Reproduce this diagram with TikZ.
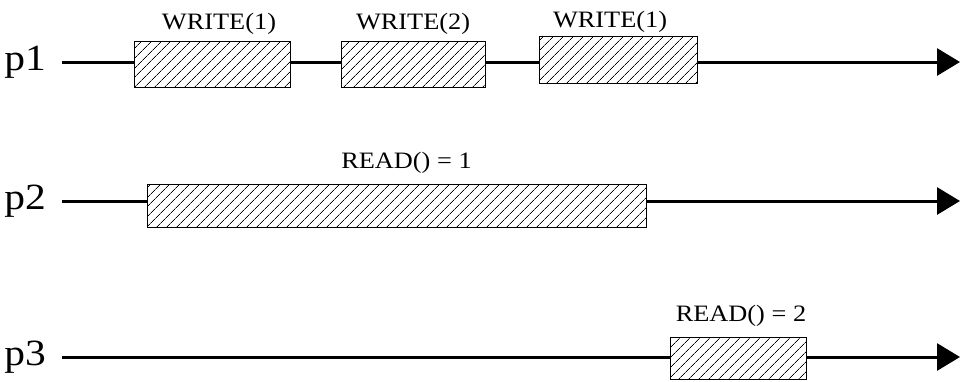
\documentclass[tikz,border=0pt]{standalone}
\usepackage{fontspec}
\setmainfont{Liberation Serif}[FakeStretch=1.12]
\usetikzlibrary{arrows.meta,patterns.meta,positioning}

\begin{document}
\begin{tikzpicture}[x=1pt,y=-1pt,>={Triangle[length=23pt,width=27pt]},
  op/.style={draw,line width=1pt,inner sep=0pt,
    pattern={Lines[angle=45,distance=7.4pt,line width=0.9pt]}},
  proc/.style={font=\fontsize{37}{40}\selectfont,inner sep=0pt},
  lbl/.style={font=\fontsize{23.5}{26}\selectfont,inner sep=0pt},
  axis/.style={line width=3pt}]
\useasboundingbox (0,0) rectangle (960,381);

% start and end of each process line
\coordinate (s1) at (62,62);  \coordinate (e1) at (960,62);
\coordinate (s2) at (62,201); \coordinate (e2) at (960,201);
\coordinate (s3) at (62,357); \coordinate (e3) at (960,357);

\node[proc,left=16pt of s1] (p1) {p1};
\node[proc,left=16pt of s2] (p2) {p2};
\node[proc,left=16pt of s3] (p3) {p3};

% operations
\node[op,minimum width=156pt,minimum height=46pt] (w1) at (212,64) {};
\node[op,minimum width=144pt,minimum height=46pt] (w2) at (413,64) {};
\node[op,minimum width=158pt,minimum height=47pt] (w3) at (618,59.5) {};
\node[op,minimum width=499pt,minimum height=43pt] (r1) at (396.5,205.5) {};
\node[op,minimum width=136pt,minimum height=42pt] (r2) at (738,358) {};

\node[lbl,above=6pt of w1,xshift=7pt] (lw1) {WRITE(1)};
\node[lbl,above=6pt of w2] (lw2) {WRITE(2)};
\node[lbl,above=3pt of w3,xshift=-8pt] (lw3) {WRITE(1)};
\node[lbl,above=10pt of r1,xshift=10pt] (lr1) {READ() = 1};
\node[lbl,above=10pt of r2,xshift=3pt] (lr2) {READ() = 2};

% process lines
\draw[axis] (s1) -- (w1.west |- s1) (w1.east |- s1) -- (w2.west |- s1)
  (w2.east |- s1) -- (w3.west |- s1);
\draw[axis,->] (w3.east |- s1) -- (e1);
\draw[axis] (s2) -- (r1.west |- s2);
\draw[axis,->] (r1.east |- s2) -- (e2);
\draw[axis] (s3) -- (r2.west |- s3);
\draw[axis,->] (r2.east |- s3) -- (e3);
\end{tikzpicture}
\end{document}
